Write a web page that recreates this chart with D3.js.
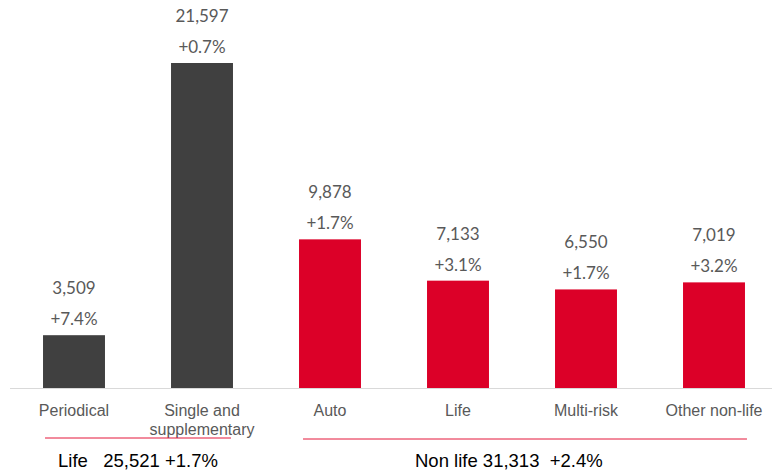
<!DOCTYPE html>
<html>
<head>
<meta charset="utf-8">
<script src="https://cdn.jsdelivr.net/npm/d3@7"></script>
<style>
  body { margin: 0; background: #fff; }
  svg { display: block; }
</style>
</head>
<body>
<svg width="773" height="472"></svg>
<script>
// data
let categories = ["Periodical", "Single and\nsupplementary", "Auto", "Life", "Multi-risk", "Other non-life"];
let values = [3509, 21597, 9878, 7133, 6550, 7019];
let changes = ["+7.4%", "+0.7%", "+1.7%", "+3.1%", "+1.7%", "+3.2%"];
let groups = ["life", "life", "nonlife", "nonlife", "nonlife", "nonlife"];
let groupLabels = [
  {key: "life", text: "Life\u00a0\u00a0\u00a025,521 +1.7%"},
  {key: "nonlife", text: "Non life 31,313 \u00a0+2.4%"}
];

let colors = {life: "#404040", nonlife: "#dc0028"};

let svg = d3.select("svg");
let baseY = 388;

let x = d3.scaleBand()
  .domain(categories)
  .range([10, 778])
  .paddingInner(0.516)
  .paddingOuter(0.258);

let y = d3.scaleLinear()
  .domain([0, d3.max(values)])
  .range([baseY, 63]);

let data = categories.map((c, i) => ({cat: c, value: values[i], change: changes[i], group: groups[i]}));

// bars
svg.selectAll(".bar")
  .data(data)
  .enter()
  .append("rect")
  .attr("class", "bar")
  .attr("x", d => x(d.cat))
  .attr("y", d => y(d.value))
  .attr("width", x.bandwidth())
  .attr("height", d => baseY - y(d.value))
  .attr("fill", d => colors[d.group]);

// baseline
svg.append("line")
  .attr("x1", 10).attr("x2", 772)
  .attr("y1", baseY + 0.5).attr("y2", baseY + 0.5)
  .attr("stroke", "#d9d9d9")
  .attr("stroke-width", 1);

// value labels
let labelFont = "Lato, 'Open Sans', sans-serif";
svg.selectAll(".val")
  .data(data)
  .enter()
  .append("text")
  .attr("x", d => x(d.cat) + x.bandwidth() / 2)
  .attr("y", d => y(d.value) - 41)
  .attr("text-anchor", "middle")
  .attr("font-family", labelFont)
  .attr("font-size", 17)
  .attr("fill", "#595959")
  .text(d => d3.format(",")(d.value));

svg.selectAll(".chg")
  .data(data)
  .enter()
  .append("text")
  .attr("x", d => x(d.cat) + x.bandwidth() / 2)
  .attr("y", d => y(d.value) - 10)
  .attr("text-anchor", "middle")
  .attr("font-family", labelFont)
  .attr("font-size", 17)
  .attr("fill", "#595959")
  .text(d => d.change);

// category labels
let catText = svg.selectAll(".cat")
  .data(data)
  .enter()
  .append("text")
  .attr("text-anchor", "middle")
  .attr("font-family", "'Liberation Sans', Arial, sans-serif")
  .attr("font-size", 16)
  .attr("fill", "#595959");

catText.selectAll("tspan")
  .data(d => d.cat.split("\n").map(t => ({t: t, cx: x(d.cat) + x.bandwidth() / 2})))
  .enter()
  .append("tspan")
  .attr("x", d => d.cx)
  .attr("y", (d, i) => 416 + i * 19)
  .text(d => d.t);

// group underline + totals
let groupInfo = groupLabels.map(g => {
  let cats = data.filter(d => d.group == g.key).map(d => d.cat);
  let x0 = x(cats[0]);
  let x1 = x(cats[cats.length - 1]) + x.bandwidth();
  return {key: g.key, text: g.text, x0: x0, x1: x1};
});

svg.selectAll(".gline")
  .data(groupInfo)
  .enter()
  .append("line")
  .attr("x1", d => d.key == "life" ? d.x0 + 2 : d.x0 + 4)
  .attr("x2", d => d.key == "life" ? d.x1 - 2 : d.x1 + 2)
  .attr("y1", d => d.key == "life" ? 438 : 439)
  .attr("y2", d => d.key == "life" ? 438 : 439)
  .attr("stroke", "#e4173a")
  .attr("stroke-width", 1);

svg.selectAll(".gtext")
  .data(groupInfo)
  .enter()
  .append("text")
  .attr("x", d => d.key == "life" ? 58 : 415)
  .attr("y", 467)
  .attr("font-family", "'Liberation Sans', Arial, sans-serif")
  .attr("font-size", 18.5)
  .attr("fill", "#000")
  .text(d => d.text);
</script>
</body>
</html>
